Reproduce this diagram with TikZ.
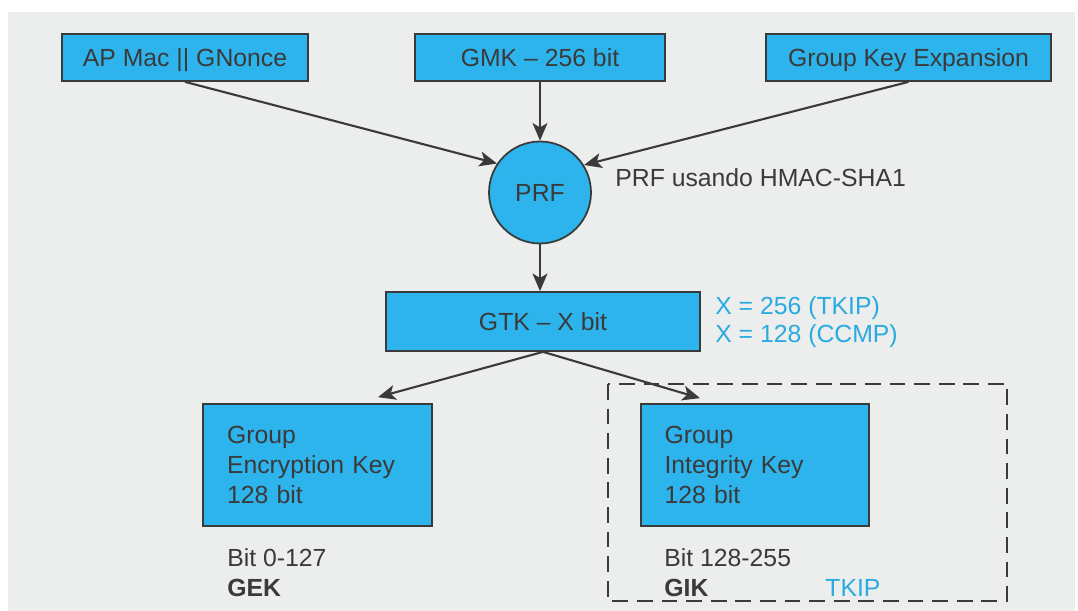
\documentclass[tikz,border=0pt]{standalone}
\usepackage{fontspec}
\setmainfont{Liberation Sans}
\usetikzlibrary{arrows.meta,positioning,calc}
\definecolor{keyblue}{RGB}{46,180,236}
\definecolor{bggrey}{RGB}{236,237,237}
\definecolor{ink}{RGB}{58,58,58}
\definecolor{noteblue}{RGB}{41,171,226}
\tikzset{
  keybox/.style={draw=ink, line width=1pt, fill=keyblue, text=ink, inner sep=0pt, minimum height=0.94cm},
  oneline/.style={text height=10.1pt, text depth=0pt},
  arr/.style={draw=ink, line width=1.2pt, -{Stealth[length=10pt,width=8.5pt,inset=2.5pt]}},
  note/.style={text=ink, inner sep=0pt, align=left},
}
\begin{document}
\begin{tikzpicture}[x=0.02cm,y=-0.02cm,font=\fontsize{14.1pt}{17.1pt}\selectfont]
\useasboundingbox (0,0) rectangle (1078,611);
\fill[bggrey] (8,12) rectangle (1075,611);
\node[keybox, oneline, minimum width=4.92cm] (apmac) at (185,57.5){AP Mac || GNonce};
\node[keybox, oneline, minimum width=5cm] (gmk) at (540,57.5){GMK \textendash{} 256 bit};
\node[keybox, oneline, minimum width=5.7cm] (gke) at (908.5,57.5){Group Key Expansion};
\node[keybox, oneline, circle, minimum size=2.04cm] (prf) at (540,192.5){PRF};
\node[note, anchor=west] (prfnote) at (615,178){PRF usando HMAC-SHA1};
\node[keybox, oneline, minimum width=6.28cm, minimum height=1.18cm] (gtk) at (543,321.5){GTK \textendash{} X bit};
\node[note, text=noteblue, anchor=west, font=\fontsize{14.1pt}{16pt}\selectfont] (xnote) at (715,322){X = 256 (TKIP)\\X = 128 (CCMP)};
\node[keybox, minimum width=4.58cm, minimum height=2.44cm, text width=3.62cm, align=left] (gek) at (317.5,465){Group\\Encryption Key\\128 bit};
\node[keybox, minimum width=4.56cm, minimum height=2.44cm, text width=3.62cm, align=left] (gik) at (755,465){Group\\Integrity Key\\128 bit};
\node[note, anchor=west] (gekbits) at (227,573){Bit 0-127\\\textbf{GEK}};
\node[note, anchor=west] (gikbits) at (664,573){Bit 128-255\\\textbf{GIK}};
\node[note, text=noteblue, anchor=west] (tkip) at (825,588){TKIP};
\coordinate (gektip) at ($(gek.north)+(60.5,-6)$);
\coordinate (giktip) at ($(gik.north)+(-55,-5)$);
\draw[arr] (apmac.south) -- (prf.146);
\draw[arr] (gmk.south) -- (prf.north);
\draw[arr] (gke.south) -- (prf.32);
\draw[arr] (prf.south) -- (prf.south |- gtk.north);
\draw[arr] (gtk.south) -- (gektip);
\draw[arr] (gtk.south) -- (giktip);
\draw[ink, line width=1.3pt, dash pattern=on 9pt off 5pt] (608,384) rectangle (1007,601);
\end{tikzpicture}
\end{document}
